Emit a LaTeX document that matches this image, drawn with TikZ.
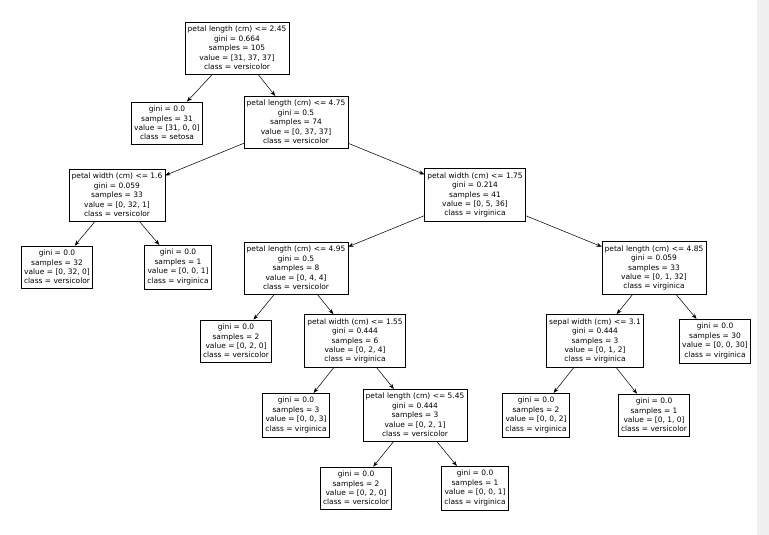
\documentclass[tikz,border=0pt]{standalone}
\usepackage{fontspec}
\setmainfont{DejaVu Sans}
\usetikzlibrary{arrows.meta}
\tikzset{
  leaf/.style={draw, thin, align=center, inner xsep=2pt, inner ysep=3pt, fill=white,
    font=\fontsize{5.6pt}{7.1pt}\selectfont},
  split/.style={leaf},
  edge/.style={-{Stealth[length=4pt,width=3pt]}, thin}
}
\begin{document}
\begin{tikzpicture}[x=0.75pt,y=-0.75pt]
    % Canvas and grey strip at the right
    \useasboundingbox (0,0) rectangle (769,535);
    \fill[white] (0,0) rectangle (769,535);
    \fill[black!6] (757,0) rectangle (769,535);

    % Splits
    \node[split] (root) at (237,48) {petal length (cm) <= 2.45\\gini = 0.664\\samples = 105\\value = [31, 37, 37]\\class = versicolor};
    \node[split] (pl475) at (296,122) {petal length (cm) <= 4.75\\gini = 0.5\\samples = 74\\value = [0, 37, 37]\\class = versicolor};
    \node[split] (pw16) at (117,195) {petal width (cm) <= 1.6\\gini = 0.059\\samples = 33\\value = [0, 32, 1]\\class = versicolor};
    \node[split] (pw175) at (475,195) {petal width (cm) <= 1.75\\gini = 0.214\\samples = 41\\value = [0, 5, 36]\\class = virginica};
    \node[split] (pl495) at (296,268) {petal length (cm) <= 4.95\\gini = 0.5\\samples = 8\\value = [0, 4, 4]\\class = versicolor};
    \node[split] (pl485) at (654,268) {petal length (cm) <= 4.85\\gini = 0.059\\samples = 33\\value = [0, 1, 32]\\class = virginica};
    \node[split] (pw155) at (355,341) {petal width (cm) <= 1.55\\gini = 0.444\\samples = 6\\value = [0, 2, 4]\\class = virginica};
    \node[split] (sw31) at (595,341) {sepal width (cm) <= 3.1\\gini = 0.444\\samples = 3\\value = [0, 1, 2]\\class = virginica};
    \node[split] (pl545) at (415,415) {petal length (cm) <= 5.45\\gini = 0.444\\samples = 3\\value = [0, 2, 1]\\class = versicolor};

    % Leaves
    \node[leaf] (setosa) at (167,123) {gini = 0.0\\samples = 31\\value = [31, 0, 0]\\class = setosa};
    \node[leaf] (lfA) at (57,267) {gini = 0.0\\samples = 32\\value = [0, 32, 0]\\class = versicolor};
    \node[leaf] (lfB) at (178,267) {gini = 0.0\\samples = 1\\value = [0, 0, 1]\\class = virginica};
    \node[leaf] (lfC) at (236,341) {gini = 0.0\\samples = 2\\value = [0, 2, 0]\\class = versicolor};
    \node[leaf] (lfD) at (715,341) {gini = 0.0\\samples = 30\\value = [0, 0, 30]\\class = virginica};
    \node[leaf] (lfE) at (296,415) {gini = 0.0\\samples = 3\\value = [0, 0, 3]\\class = virginica};
    \node[leaf] (lfF) at (536,415) {gini = 0.0\\samples = 2\\value = [0, 0, 2]\\class = virginica};
    \node[leaf] (lfG) at (654,415) {gini = 0.0\\samples = 1\\value = [0, 1, 0]\\class = versicolor};
    \node[leaf] (lfH) at (356,488) {gini = 0.0\\samples = 2\\value = [0, 2, 0]\\class = versicolor};
    \node[leaf] (lfI) at (475,488) {gini = 0.0\\samples = 1\\value = [0, 0, 1]\\class = virginica};

    % Edges
    \foreach \a/\b in {root/setosa, root/pl475, pl475/pw16, pl475/pw175,
        pw16/lfA, pw16/lfB, pw175/pl495, pw175/pl485, pl495/lfC, pl495/pw155,
        pl485/sw31, pl485/lfD, pw155/lfE, pw155/pl545, sw31/lfF, sw31/lfG,
        pl545/lfH, pl545/lfI}
      \draw[edge] (\a) -- (\b);
\end{tikzpicture}
\end{document}
